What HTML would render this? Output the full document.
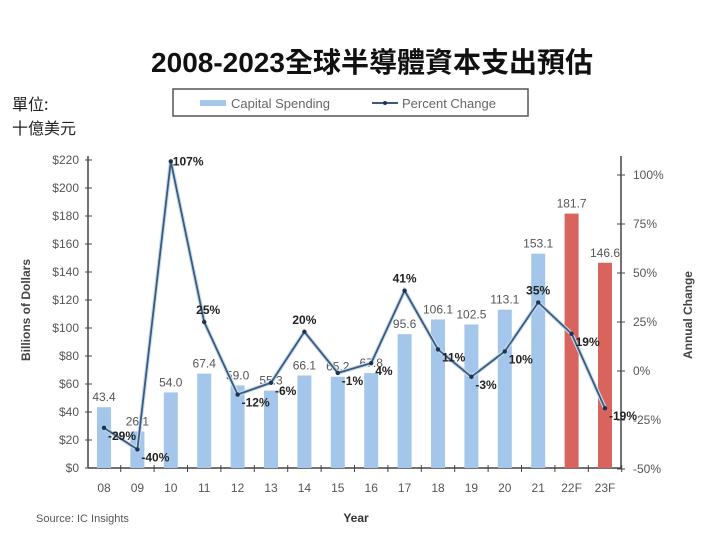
<!DOCTYPE html>
<html><head><meta charset="utf-8"><style>
body{margin:0;width:720px;height:539px;background:#fff;overflow:hidden;font-family:"Liberation Sans","Noto Sans CJK TC",sans-serif}
</style></head><body>
<svg width="720" height="539" xmlns="http://www.w3.org/2000/svg">
<text x="372" y="72" text-anchor="middle" font-size="28" font-weight="bold" fill="#111" font-family="Liberation Sans,Noto Sans CJK TC,sans-serif">2008-2023全球半導體資本支出預估</text>
<text x="12" y="110" font-size="16" fill="#222" font-family="Noto Sans CJK TC,sans-serif">單位:</text>
<text x="12" y="134" font-size="16" fill="#222" font-family="Noto Sans CJK TC,sans-serif">十億美元</text>
<g>
<rect x="173" y="89" width="355" height="27" fill="#fff" stroke="#555" stroke-width="1.5"/>
<rect x="200" y="100" width="26" height="6" fill="#a4c6ea"/>
<text x="231" y="108" font-size="13" fill="#666">Capital Spending</text>
<line x1="372" y1="103" x2="398" y2="103" stroke="#3d5a78" stroke-width="2"/>
<circle cx="385" cy="103" r="2" fill="#1e3350"/>
<text x="402" y="108" font-size="13" fill="#666">Percent Change</text>
</g>
<g id="axes"></g>
<g id="marks"></g>
<text x="30" y="310" transform="rotate(-90 30 310)" text-anchor="middle" font-size="12" font-weight="bold" fill="#444">Billions of Dollars</text>
<text x="692" y="315" transform="rotate(-90 692 315)" text-anchor="middle" font-size="12" font-weight="bold" fill="#444">Annual Change</text>
<text x="356" y="522" text-anchor="middle" font-size="12" font-weight="bold" fill="#333">Year</text>
<text x="36" y="522" font-size="11" fill="#555">Source: IC Insights</text>
</svg>
<script>
const categories=["08","09","10","11","12","13","14","15","16","17","18","19","20","21","22F","23F"];
const spending=[43.4,26.1,54.0,67.4,59.0,55.3,66.1,65.2,67.8,95.6,106.1,102.5,113.1,153.1,181.7,146.6];
const change=[-29,-40,107,25,-12,-6,20,-1,4,41,11,-3,10,35,19,-19];
const forecast=[false,false,false,false,false,false,false,false,false,false,false,false,false,false,true,true];
const leftTicks=[0,20,40,60,80,100,120,140,160,180,200,220];
const rightTicks=[-50,-25,0,25,50,75,100];
const NS="http://www.w3.org/2000/svg";
const xS=i=>104+i*33.4;
const yL=v=>468-v*1.4;
const yR=v=>371-v*1.96;
const axes=document.getElementById('axes'),marks=document.getElementById('marks');
function mk(t,a,p){const e=document.createElementNS(NS,t);for(const k in a)e.setAttribute(k,a[k]);(p||marks).appendChild(e);return e;}
// axes
let l=mk('line',{x1:88,y1:156,x2:88,y2:468,stroke:'#444','stroke-width':1.5},axes);


l=mk('line',{x1:88,y1:468,x2:621,y2:468,stroke:'#444','stroke-width':1.5},axes);


l=mk('line',{x1:621,y1:156,x2:621,y2:469,stroke:'#444','stroke-width':1.5},axes);


leftTicks.forEach(v=>{const y=yL(v);mk('line',{x1:85,y1:y,x2:92,y2:y,stroke:'#444'},axes);
const t=mk('text',{x:79,y:y+4,'text-anchor':'end','font-size':12,fill:'#555'},axes);t.textContent='$'+v;

});
rightTicks.forEach(v=>{const y=yR(v);mk('line',{x1:617,y1:y,x2:625,y2:y,stroke:'#444'},axes);
const t=mk('text',{x:633,y:y+4,'font-size':12,fill:'#555'},axes);t.textContent=v+'%';

});
categories.forEach((c,i)=>{const x=xS(i);mk('line',{x1:x+16.7,y1:465,x2:x+16.7,y2:472,stroke:'#444'},axes);
const t=mk('text',{x:x,y:492,'text-anchor':'middle','font-size':12,fill:'#555'},axes);t.textContent=c;

});
// bars
spending.forEach((v,i)=>{const x=xS(i);const b=mk('rect',{x:x-7,y:yL(v),width:14,height:468-yL(v),fill:forecast[i]?'#d9645e':'#a4c6ea'});


const t=mk('text',{x:x,y:yL(v)-6,'text-anchor':'middle','font-size':12,fill:'#555'});t.textContent=v.toFixed(1);

});
// line
const pts=change.map((v,i)=>xS(i)+','+yR(v)).join(' ');
mk('polyline',{points:pts,fill:'none',stroke:'#c6dcf2','stroke-width':4});
const pl=mk('polyline',{points:pts,fill:'none',stroke:'#3d5a78','stroke-width':1.8});


change.forEach((v,i)=>{const x=xS(i),y=yR(v);const c=mk('circle',{cx:x,cy:y,r:2.2,fill:'#1e3350'});


const t=mk('text',{x:x+(v>=35||v==20?0:4),y:v>=20?y-8:y+12,'text-anchor':(v>=20?'middle':'start'),'font-size':12,'font-weight':'bold',fill:'#222'});
if(v==107){t.setAttribute('x',x+2);t.setAttribute('y',y+4);t.setAttribute('text-anchor','start');}
t.textContent=v+'%';

});
</script>
</body></html>
